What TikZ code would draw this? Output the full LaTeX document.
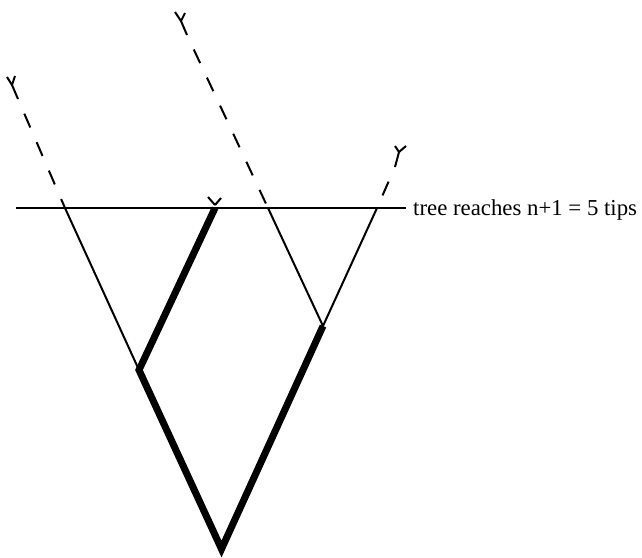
\documentclass[tikz,border=0pt]{standalone}
\usepackage{fontspec}
\setmainfont{Liberation Serif}
\usetikzlibrary{positioning}
\tikzset{
    branch/.style={line width=2pt},
    lineage/.style={line width=7pt, miter limit=20},
    unseen/.style={line width=2pt, dash pattern=on 15pt off 16pt, dash phase=15pt},
    tipmark/.style={line width=2pt},
    cutlabel/.style={inner sep=0pt, font=\fontsize{22.8}{27}\selectfont}
}
\begin{document}
\begin{tikzpicture}[x=1pt, y=-1pt]
        \useasboundingbox (0,0) rectangle (642,557);
        % Internal nodes
        \coordinate (root) at (221.5,549);
        \coordinate (left) at (139,370);
        \coordinate (right) at (323,326);
        
        % Crossings with the sampling line
        \coordinate (cutA) at (65,208);
        \coordinate (cutB) at (215,208);
        \coordinate (cutC) at (268,208);
        \coordinate (cutD) at (377,208);
        
        % Ends of the dashed lineages
        \coordinate (endA) at (18,99);
        \coordinate (endC) at (187,35);
        \coordinate (endD) at (395,167);
        
        % Sampling line
        \coordinate (lineL) at (16,208);
        \coordinate (lineR) at (406,208);
        \draw[branch] (lineL) -- (lineR);
        \node[cutlabel, right=7pt of lineR, yshift=-2pt] (cut) {tree reaches n+1 = 5 tips};
        
        % Sampled lineage
        \draw[lineage] (cutB) -- (left) -- (root) -- (right);
        
        % Other branches
        \draw[branch] (left) -- (cutA);
        \draw[branch] (right) -- (cutC);
        \draw[branch] (right) -- (cutD);
        
        % Dashed continuations
        \draw[unseen] (endA) -- (cutA);
        \draw[unseen] (endC) -- (cutC);
        \draw[unseen] (endD) -- (cutD);
        
        % Tips
        \draw[tipmark] (endA) -- ++(-6,-14) coordinate (forkA) -- ++(-5,-8);
        \draw[tipmark] (forkA) -- ++(3,-9);
        \draw[tipmark] (endC) -- ++(-6,-14) coordinate (forkC) -- ++(-6,-9);
        \draw[tipmark] (forkC) -- ++(4,-8);
        \draw[tipmark] (endD) -- ++(4,-15) coordinate (forkD) -- ++(-4,-6);
        \draw[tipmark] (forkD) -- ++(7,-6);
        \coordinate (forkB) at (215,205);
        \draw[tipmark] (forkB) -- ++(-7,-8);
        \draw[tipmark] (forkB) -- ++(6,-7);
    \end{tikzpicture}
\end{document}
